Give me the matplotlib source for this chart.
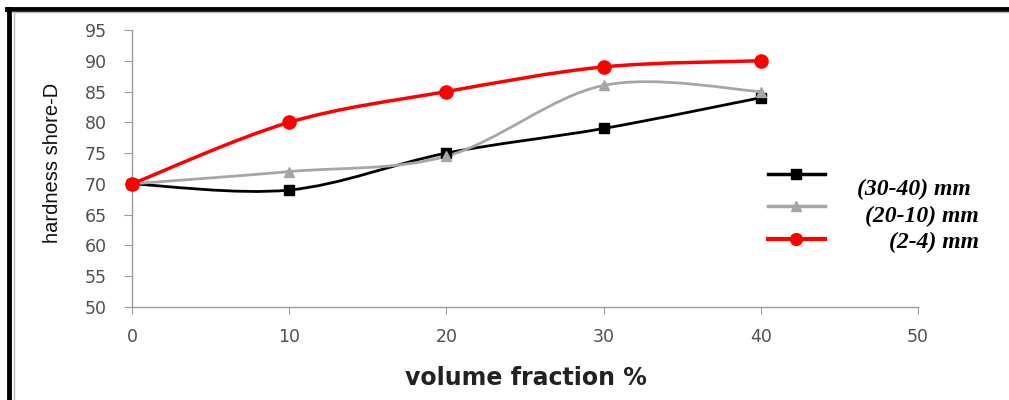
import matplotlib
matplotlib.use("Agg")
import matplotlib.pyplot as plt
from matplotlib.path import Path
from matplotlib.patches import PathPatch
from matplotlib.lines import Line2D

volume_fraction = [0, 10, 20, 30, 40]
hardness_30_40 = [70, 69, 75, 79, 84]
hardness_20_10 = [70, 72, 74.5, 86, 85]
hardness_2_4 = [70, 80, 85, 89, 90]
series_labels = ["(30-40) mm", "(20-10) mm", "(2-4) mm"]
x_ticks = [0, 10, 20, 30, 40, 50]
y_ticks = [50, 55, 60, 65, 70, 75, 80, 85, 90, 95]

fig = plt.figure(figsize=(10.09, 4.0), dpi=100)
ax = fig.add_axes([0.1308, 0.2325, 0.7790, 0.6925])


def smooth_path(xs, ys):
    pts = list(zip(xs, ys))
    n = len(pts)
    verts = [pts[0]]
    codes = [Path.MOVETO]
    for i in range(n - 1):
        p0 = pts[i - 1] if i > 0 else pts[i]
        p1 = pts[i]
        p2 = pts[i + 1]
        p3 = pts[i + 2] if i + 2 < n else pts[i + 1]
        c1 = (p1[0] + (p2[0] - p0[0]) / 6, p1[1] + (p2[1] - p0[1]) / 6)
        c2 = (p2[0] - (p3[0] - p1[0]) / 6, p2[1] - (p3[1] - p1[1]) / 6)
        verts += [c1, c2, p2]
        codes += [Path.CURVE4] * 3
    return Path(verts, codes)


styles = [
    (hardness_30_40, "#000000", "s", 7.5, 2.0),
    (hardness_20_10, "#a6a6a6", "^", 7.5, 2.0),
    (hardness_2_4, "#ff0000", "o", 9.5, 2.5),
]
handles = []
for ys, color, marker, ms, lw in styles:
    patch = PathPatch(smooth_path(volume_fraction, ys), facecolor="none",
                      edgecolor=color, lw=lw, zorder=3)
    ax.add_patch(patch)
    ax.plot(volume_fraction, ys, linestyle="none", marker=marker,
            color=color, markersize=ms, zorder=4, clip_on=False)
    handles.append(Line2D([], [], color=color, lw=lw + 0.5, marker=marker,
                          markersize=ms - 1))

ax.set_xlim(0, 50)
ax.set_ylim(50, 95)
ax.set_xticks(x_ticks)
ax.set_yticks(y_ticks)
for s in ["top", "right"]:
    ax.spines[s].set_visible(False)
for s in ["left", "bottom"]:
    ax.spines[s].set_color("#9a9a9a")
    ax.spines[s].set_linewidth(1.0)
ax.tick_params(axis="x", direction="out", length=5, color="#9a9a9a",
               labelsize=12.5, labelcolor="#505050", pad=10)
ax.tick_params(axis="y", direction="out", length=6, color="#9a9a9a",
               labelsize=12.5, labelcolor="#505050", pad=12)
for lab in ax.get_xticklabels() + ax.get_yticklabels():
    lab.set_family("DejaVu Sans")

ax.set_xlabel("volume fraction %", fontsize=17, fontweight="bold",
              color="#222222", family="DejaVu Sans")
ax.xaxis.set_label_coords(0.501, -0.212)
ax.set_ylabel("hardness shore-D", fontsize=14.5,
              family="Liberation Sans", color="#111111")
ax.yaxis.set_label_coords(-0.089, 0.52)

leg = fig.legend(handles, ["", "", ""], loc="upper left",
                 bbox_to_anchor=(0.754, 0.5975), frameon=False,
                 handlelength=4.1, labelspacing=1.32, handletextpad=0.0,
                 borderpad=0, fontsize=10)

text_pos = [(0.962, 0.5275), (0.970, 0.46), (0.970, 0.395)]
for (tx, ty), lab in zip(text_pos, series_labels):
    fig.text(tx, ty, lab, ha="right", va="center", fontsize=17,
             fontweight="bold", fontstyle="italic", family="Liberation Serif")

# frame around the picture
fig.add_artist(Line2D([0.007, 1.0], [0.978, 0.978], color="black", lw=3.5,
                      transform=fig.transFigure))
fig.add_artist(Line2D([0.009, 0.009], [0.0, 0.978], color="black", lw=3.5,
                      transform=fig.transFigure))
fig.add_artist(Line2D([0.013, 1.0], [0.969, 0.969], color="#bbbbbb", lw=1.0,
                      transform=fig.transFigure))
fig.add_artist(Line2D([0.0135, 0.0135], [0.0, 0.969], color="#bbbbbb", lw=1.0,
                      transform=fig.transFigure))

fig.savefig("out.png", dpi=100)
